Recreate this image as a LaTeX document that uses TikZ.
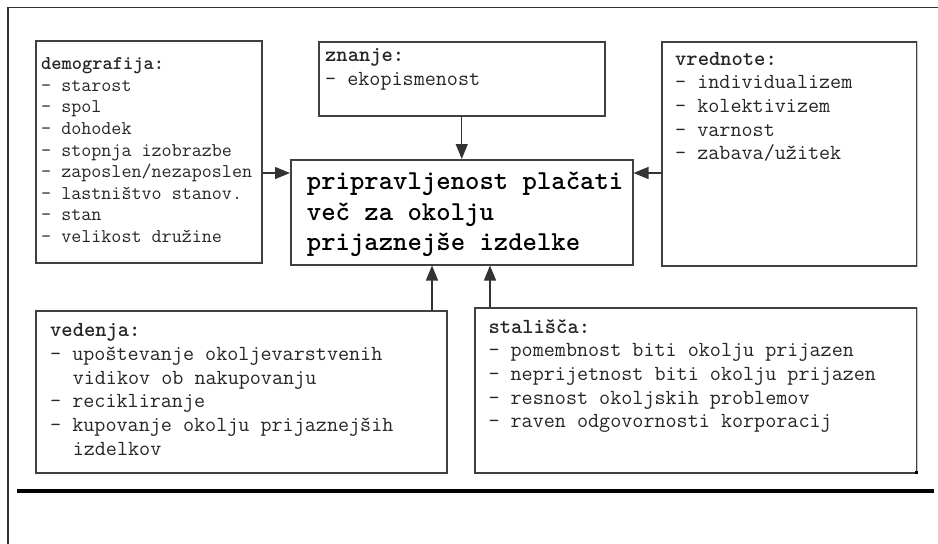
\documentclass[tikz,border=0pt]{standalone}
\usepackage{fontspec}
\usetikzlibrary{arrows.meta}
\begin{document}
\begin{tikzpicture}[x=1pt,y=-1pt,
  box/.style={draw=black!75, line width=1.5pt, inner sep=0pt, anchor=north west},
  txt/.style={anchor=north west, align=left, inner sep=0pt, text=black!85,
              font=\ttfamily\fontsize{21.5}{23.7}\selectfont},
  smalltxt/.style={txt, font=\ttfamily\fontsize{19.5}{21.6}\selectfont},
  bigtxt/.style={txt, text=black, font=\ttfamily\bfseries\fontsize{27.4}{30.5}\selectfont},
  arr/.style={draw=black!80, line width=1.2pt, -{Triangle[length=15pt,width=12pt]}},
  frame/.style={draw=black!80, line width=1.2pt}]
\useasboundingbox (0,0) rectangle (938,544);
\fill[white] (0,0) rectangle (938,544);

% outer frame and bottom rule
\draw[frame] (8,544) -- (8,7.5) -- (938,7.5);
\draw[line width=4pt] (17,491) -- (934,491);

% boxes
\node[box, minimum width=226pt, minimum height=222pt] (demo) at (35,40) {};
\node[box, minimum width=286pt, minimum height=74pt] (znanje) at (318,41) {};
\node[box, minimum width=342pt, minimum height=105pt] (center) at (290,159) {};
\node[box, minimum width=255pt, minimum height=224pt] (vred) at (661,41) {};
\node[box, minimum width=411pt, minimum height=162pt] (ved) at (35,310) {};
\node[box, minimum width=442pt, minimum height=165pt] (stal) at (474,307) {};
\draw[gray!45, line width=1.5pt] (vred.north east) -- (vred.south east);
\draw[gray!45, line width=1.5pt] (stal.north east) -- (stal.south east);
\fill[black] (stal.south east) rectangle ++(-3,-3);

% texts
\node[smalltxt] (demot) at (41,54.4) {\strut\textbf{demografija:}\\
- starost\\ - spol\\ - dohodek\\ - stopnja izobrazbe\\ - zaposlen/nezaposlen\\
- lastništvo stanov.\\ - stan\\ - velikost družine};
\node[txt] (znanjet) at (325,44.9) {\strut\textbf{znanje:}\\ - ekopismenost};
\node[txt] (vredt) at (675,48.4) {\strut\textbf{vrednote:}\\ - individualizem\\
- kolektivizem\\ - varnost\\ - zabava/užitek};
\node[bigtxt] (centert) at (306.7,168) {\strut pripravljenost plačati\\ več za okolju\\ prijaznejše izdelke};
\node[txt] (vedt) at (50,319.9) {\strut\textbf{vedenja:}\\
- upoštevanje okoljevarstvenih\\ \hspace*{1.05em}vidikov ob nakupovanju\\
- recikliranje\\ - kupovanje okolju prijaznejših\\ \hspace*{1.05em}izdelkov};
\node[txt] (stalt) at (488.3,316.4) {\strut\textbf{stališča:}\\
- pomembnost biti okolju prijazen\\ - neprijetnost biti okolju prijazen\\
- resnost okoljskih problemov\\ - raven odgovornosti korporacij};

% connectors
\coordinate (yL) at (0,173);
\coordinate (xA) at (432,0);
\coordinate (xB) at (490,0);
\draw[arr] (znanje.south) -- (center.north);
\draw[arr] (demo.east |- yL) -- (center.west |- yL);
\draw[arr] (vred.west |- yL) -- (center.east |- yL);
\draw[arr] (ved.north -| xA) -- (center.south -| xA);
\draw[arr] (stal.north -| xB) -- (center.south -| xB);
\end{tikzpicture}
\end{document}
